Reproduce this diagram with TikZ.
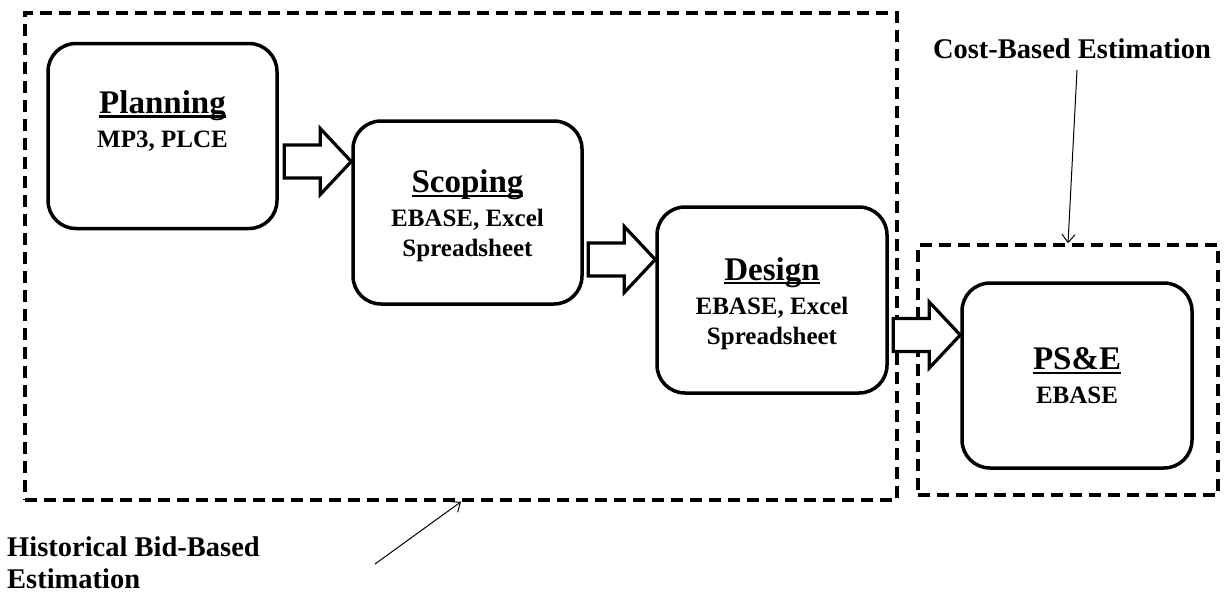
\documentclass[tikz,border=0pt]{standalone}
\usepackage{fontspec}
\setmainfont{Liberation Serif}
\usetikzlibrary{calc,arrows.meta}
\newcommand\myul[1]{\setbox0\hbox{#1}\rlap{\rule[-4pt]{\wd0}{2.2pt}}\box0}
\newcommand\ttl[1]{{\fontsize{33}{33}\selectfont\myul{#1}}}
\begin{document}
\begin{tikzpicture}[x=1pt,y=-1pt,
  stage/.style={draw, line width=3.5, rounded corners=28, inner sep=0,
    minimum width=229, minimum height=185},
  lbl/.style={align=center, inner sep=0, font=\bfseries\fontsize{25}{30}\selectfont},
  note/.style={inner sep=0, font=\bfseries\fontsize{28.5}{32}\selectfont},
  dbox/.style={draw, line width=3.5, dash pattern=on 12pt off 7pt, inner sep=0},
  blockarr/.style={draw, fill=white, line width=3.2, line join=miter},
  thinarr/.style={line width=1, -{Straight Barb[length=8pt,width=13pt]}},
  barrow/.pic={\path[blockarr] (0,-16.5)--(36,-16.5)--(36,-33)--(67,0)--(36,33)--(36,16.5)--(0,16.5)--cycle;}
]
\useasboundingbox (0,0) rectangle (1225,595);

% dashed regions
\node[dbox, minimum width=872, minimum height=487] (hbox) at (461,256.5) {};
\node[dbox, minimum width=300, minimum height=250] (cbox) at (1068,370) {};

% stages
\node[stage] (plan) at (162.5,136) {};
\node[stage, minimum height=183] (scope) at (467.5,212.5) {};
\node[stage, minimum width=230, minimum height=186] (design) at (772,300) {};
\node[stage, minimum width=230] (pse) at (1077,375.5) {};

\node[lbl] (planT) at (162.5,121) {\ttl{Planning}\\[4pt]MP3, PLCE};
\node[lbl] (scopeT) at (467.5,216) {\ttl{Scoping}\\[4pt]EBASE, Excel\\Spreadsheet};
\node[lbl] (designT) at (772,303.5) {\ttl{Design}\\[4pt]EBASE, Excel\\Spreadsheet};
\node[lbl] (pseT) at (1077,376) {\ttl{PS\&E}\\[4pt]EBASE};

% block arrows
\pic at ($(scope.west |- 0,161.5)+(-67,0)$) {barrow};
\pic at ($(design.west |- 0,259.5)+(-67,0)$) {barrow};
\pic at ($(pse.west |- 0,335)+(-67,0)$) {barrow};

% notes
\node[note] (cost) at (1072,49) {Cost-Based Estimation};
\coordinate (cstart) at (1077,70);
\draw[thinarr] (cstart) -- (cbox.north);

\node[note, align=left, anchor=west] (hist) at (7,563) {Historical Bid-Based\\Estimation};
\coordinate (hstart) at (375,564);
\draw[thinarr] (hstart) -- (hbox.south);
\end{tikzpicture}
\end{document}
